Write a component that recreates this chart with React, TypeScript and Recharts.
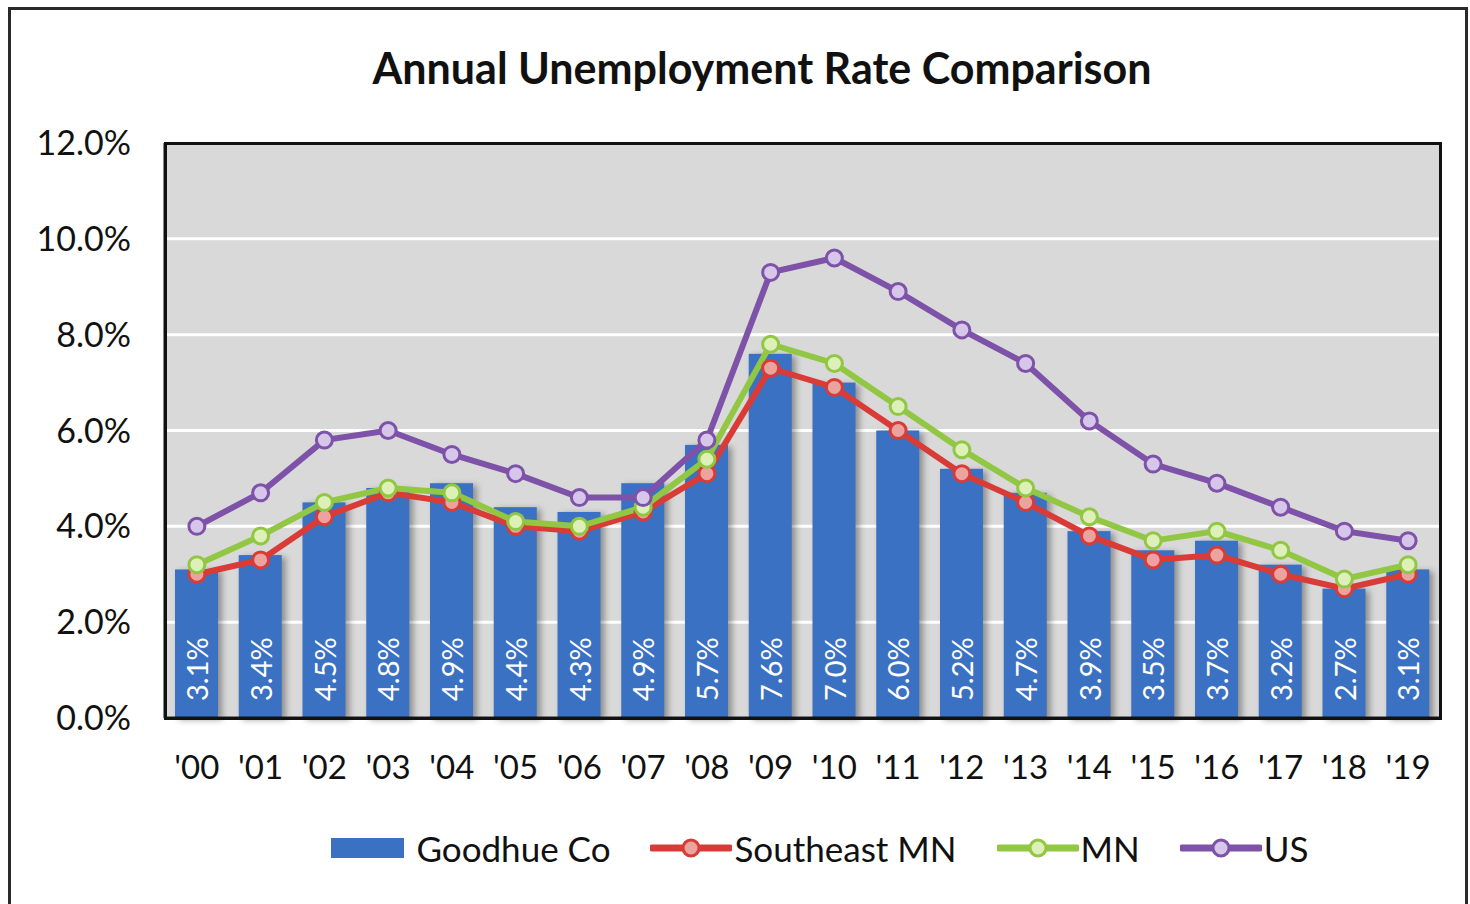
import React from 'react';
import {
  ComposedChart,
  Bar,
  Line,
  XAxis,
  YAxis,
  CartesianGrid,
  Legend,
  LabelList,
} from 'recharts';

const years = ["'00", "'01", "'02", "'03", "'04", "'05", "'06", "'07", "'08", "'09", "'10", "'11", "'12", "'13", "'14", "'15", "'16", "'17", "'18", "'19"];
const goodhue = [3.1, 3.4, 4.5, 4.8, 4.9, 4.4, 4.3, 4.9, 5.7, 7.6, 7.0, 6.0, 5.2, 4.7, 3.9, 3.5, 3.7, 3.2, 2.7, 3.1];
const southeast = [3.0, 3.3, 4.2, 4.7, 4.5, 4.0, 3.9, 4.3, 5.1, 7.3, 6.9, 6.0, 5.1, 4.5, 3.8, 3.3, 3.4, 3.0, 2.7, 3.0];
const mn = [3.2, 3.8, 4.5, 4.8, 4.7, 4.1, 4.0, 4.4, 5.4, 7.8, 7.4, 6.5, 5.6, 4.8, 4.2, 3.7, 3.9, 3.5, 2.9, 3.2];
const us = [4.0, 4.7, 5.8, 6.0, 5.5, 5.1, 4.6, 4.6, 5.8, 9.3, 9.6, 8.9, 8.1, 7.4, 6.2, 5.3, 4.9, 4.4, 3.9, 3.7];
const yTicks = [0, 2, 4, 6, 8, 10, 12];

const data = years.map((year, i) => ({
  year,
  goodhue: goodhue[i],
  southeast: southeast[i],
  mn: mn[i],
  us: us[i],
}));

const FONT = 'Lato, "Open Sans", sans-serif';

// plot box, in page pixels
const PLOT = { left: 165, top: 143, right: 1440, bottom: 718 };

const lines = [
  { key: 'southeast', name: 'Southeast MN', color: '#d93b36', dot: '#eba3a0' },
  { key: 'mn', name: 'MN', color: '#92c744', dot: '#dcf0b8' },
  { key: 'us', name: 'US', color: '#7d52a8', dot: '#d6c6ea' },
];

const BarShape = (props: any) => {
  const { x, y, width, height } = props;
  return (
    <rect
      x={x}
      y={y}
      width={width}
      height={height}
      fill="#3b71c2"
      style={{ filter: 'drop-shadow(4px 2px 3px rgba(0,0,0,0.35))' }}
    />
  );
};

const BarLabel = (props: any) => {
  const { x, y, width, height, value } = props;
  const cx = x + width / 2;
  const by = y + height - 17;
  return (
    <text
      x={cx}
      y={by}
      transform={`rotate(-90, ${cx}, ${by})`}
      fill="#ffffff"
      fontSize={29}
      fontFamily={FONT}
      dominantBaseline="central"
      textAnchor="start"
    >
      {`${Number(value).toFixed(1)}%`}
    </text>
  );
};

const makeDot = (color: string, fill: string) => (props: any) => {
  const { cx, cy, index } = props;
  return <circle key={index} cx={cx} cy={cy} r={8} fill={fill} stroke={color} strokeWidth={3} />;
};

const LegendContent = () => (
  <div
    style={{
      display: 'flex',
      justifyContent: 'center',
      alignItems: 'center',
      height: 48,
      fontFamily: FONT,
      fontSize: 35,
      color: '#111',
      paddingLeft: 210,
    }}
  >
    <div style={{ display: 'flex', alignItems: 'center', marginRight: 40 }}>
      <div style={{ width: 73, height: 20, background: '#3b71c2', marginRight: 12 }} />
      <span>Goodhue Co</span>
    </div>
    {lines.map((l) => (
      <div key={l.key} style={{ display: 'flex', alignItems: 'center', marginRight: 40 }}>
        <svg width={82} height={24} style={{ marginRight: 2 }}>
          <line x1={2} y1={12} x2={80} y2={12} stroke={l.color} strokeWidth={7} strokeLinecap="round" />
          <circle cx={41} cy={12} r={8} fill={l.dot} stroke={l.color} strokeWidth={3} />
        </svg>
        <span>{l.name}</span>
      </div>
    ))}
  </div>
);

export default function App() {
  return (
    <div style={{ position: 'absolute', left: 0, top: 0, width: 1470, height: 904, background: '#fff' }}>
      <div
        style={{
          position: 'absolute',
          left: 8,
          top: 7,
          width: 1460,
          height: 920,
          border: '3px solid #2a2a2a',
          boxSizing: 'border-box',
        }}
      />
      <div
        style={{
          position: 'absolute',
          left: 0,
          top: 42,
          width: 1524,
          textAlign: 'center',
          fontFamily: FONT,
          fontWeight: 700,
          fontSize: 43,
          color: '#111',
        }}
      >
        Annual Unemployment Rate Comparison
      </div>
      <div style={{ position: 'absolute', left: 0, top: 0 }}>
        <ComposedChart
          width={1470}
          height={904}
          data={data}
          margin={{ top: PLOT.top, right: 1470 - PLOT.right, bottom: 74, left: 0 }}
        >
          <CartesianGrid vertical={false} stroke="#ffffff" strokeWidth={3} fill="#d9d9d9" />
          <XAxis
            dataKey="year"
            height={64}
            axisLine={{ stroke: '#111', strokeWidth: 3 }}
            tickLine={false}
            tickMargin={32}
            tick={{ fill: '#111', fontSize: 33, fontFamily: FONT }}
            interval={0}
          />
          <YAxis
            domain={[0, 12]}
            ticks={yTicks}
            width={PLOT.left}
            axisLine={{ stroke: '#111', strokeWidth: 3 }}
            tickLine={false}
            tickSize={6}
            tickMargin={28}
            tickFormatter={(v: number) => `${v.toFixed(1)}%`}
            tick={{ fill: '#111', fontSize: 34, fontFamily: FONT }}
          />
          <Legend
            content={<LegendContent />}
            wrapperStyle={{ top: 824, left: 0, width: 1470 }}
          />
          <Bar dataKey="goodhue" name="Goodhue Co" barSize={43} shape={<BarShape />} isAnimationActive={false}>
            <LabelList dataKey="goodhue" content={<BarLabel />} />
          </Bar>
          {lines.map((l) => (
            <Line
              key={l.key}
              dataKey={l.key}
              name={l.name}
              stroke={l.color}
              strokeWidth={6}
              dot={makeDot(l.color, l.dot)}
              activeDot={false}
              isAnimationActive={false}
            />
          ))}
        </ComposedChart>
      </div>
      <div
        style={{
          position: 'absolute',
          left: PLOT.left - 1.5,
          top: PLOT.top - 1.5,
          width: PLOT.right - PLOT.left + 3,
          height: PLOT.bottom - PLOT.top + 3,
          border: '3px solid #111',
          boxSizing: 'border-box',
          pointerEvents: 'none',
        }}
      />
    </div>
  );
}
